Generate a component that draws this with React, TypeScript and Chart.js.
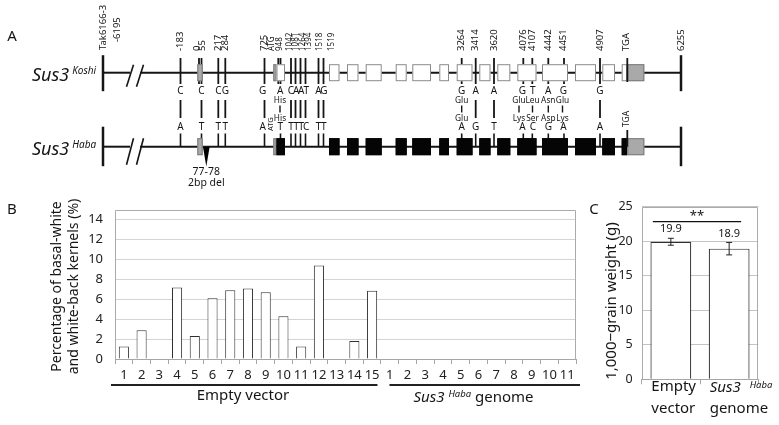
import React, { useEffect, useRef } from "react";
import { Chart, registerables } from "chart.js";

Chart.register(...registerables);

const FONT = '"Noto Sans", "DejaVu Sans", sans-serif';
Chart.defaults.font.family = FONT;
Chart.defaults.color = "#222";

const INK = "#151515";

// ---------------- Panel A : Sus3 gene structure (positions in diagram columns) ----------------
const alleleNames = ["Koshi", "Haba"];
const geneSpan = [103, 681];
const breakMarks = [130, 140];
const utr5Exon = [197.3, 202.7];
const atgUtr = [273.3, 276.5];
const codingExons = [
  [276.5, 285], [329, 339.5], [347, 358.5], [365.7, 381.7], [395.7, 406.7],
  [412.3, 431], [439.3, 449], [456.7, 472.5], [479.3, 490.5], [497.3, 510.3],
  [517.3, 536.5], [542, 568], [575, 596], [602.3, 615], [621.7, 627.3],
];
const utr3Exon = [627.3, 644.3];
const tgaPos = 627.3;
const topLabels = [
  "-6195", "-183", "0", "55", "217", "284", "725", "ATG", "948", "1042", "1081", "1264",
  "1394", "1518", "1519", "3264", "3414", "3620", "4076", "4107", "4442", "4451", "4907", "TGA", "6255",
];
const topLabelX = [
  117, 180.5, 197.3, 202.6, 218.3, 225.3, 263.8, 271.5, 279.5, 289.5, 296, 302.3,
  308.3, 320, 331.5, 461.7, 475.5, 494, 523.3, 532.7, 548.3, 563.3, 600, 626.7, 681.5,
];
const denseLabels = ["ATG", "948", "1042", "1081", "1264", "1394", "1518", "1519"];
const startLabel = "Tak6166-3";
const koshiExtraTicks = [199, 278.3];
const snpX = [180.5, 201.5, 218.3, 225.3, 264.5, 280.5, 291, 295.5, 300.5, 305.5, 318.5, 323.5, 461.7, 475.7, 494, 523.3, 532.3, 548.3, 564, 600];
const koshiBases = ["C", "C", "C", "G", "G", "A", "C", "A", "A", "T", "A", "G", "G", "A", "A", "G", "T", "A", "G", "G"];
const habaBases = ["A", "T", "T", "T", "A", "T", "T", "T", "T", "C", "T", "T", "A", "G", "T", "A", "C", "G", "A", "A"];
const baseLabelX = [180.5, 201.5, 218.3, 225.3, 262.7, 280.3, 291, 296.2, 301.2, 306.2, 318.5, 323.8, 461.7, 475.7, 494, 522.5, 532.8, 548.3, 563.5, 600];
const aaSnpX = [280.5, 461.7, 523.3, 532.3, 548.3, 564];
const aaLabelX = [280, 461.7, 519, 532.5, 548.3, 562.5];
const koshiAA = ["His", "Glu", "Glu", "Leu", "Asn", "Glu"];
const habaAA = ["His", "Glu", "Lys", "Ser", "Asp", "Lys"];
const deletionX = 206.3;
const deletionText = ["77-78", "2bp del"];

// ---------------- Panel B ----------------
const emptyVectorLines = ["1", "2", "3", "4", "5", "6", "7", "8", "9", "10", "11", "12", "13", "14", "15"];
const habaGenomeLines = ["1", "2", "3", "4", "5", "6", "7", "8", "9", "10", "11"];
const pctEmptyVector = [1.25, 2.9, 0, 7.2, 2.3, 6.1, 6.9, 7.1, 6.7, 4.3, 1.25, 9.4, 0, 1.8, 6.85];
const pctHabaGenome = [0, 0, 0, 0, 0, 0, 0, 0, 0, 0, 0];
const groupNames = ["Empty vector", "genome"];
const yTitleB = ["Percentage of basal-white", "and white-back kernels (%)"];

// ---------------- Panel C ----------------
const cCategories = ["Empty vector", "Sus3 Haba genome"];
const grainWeight = [19.9, 18.9];
const grainWeightErr = [0.5, 0.9];
const grainWeightText = ["19.9", "18.9"];
const significance = "**";
const significanceLevel = 22.8;
const yTitleC = "1,000\u2212grain weight (g)";

// ---------------- helpers ----------------
function seg(ctx: CanvasRenderingContext2D, x1: number, y1: number, x2: number, y2: number, w: number, c = INK) {
  ctx.save();
  ctx.beginPath();
  ctx.strokeStyle = c;
  ctx.lineWidth = w;
  ctx.moveTo(x1, y1);
  ctx.lineTo(x2, y2);
  ctx.stroke();
  ctx.restore();
}
function txt(ctx: CanvasRenderingContext2D, s: string, x: number, y: number, font: string, align: CanvasTextAlign = "center", baseline: CanvasTextBaseline = "middle", rot = 0, color = INK) {
  ctx.save();
  ctx.translate(x, y);
  if (rot) ctx.rotate(rot);
  ctx.font = font;
  ctx.fillStyle = color;
  ctx.textAlign = align;
  ctx.textBaseline = baseline;
  ctx.fillText(s, 0, 0);
  ctx.restore();
}
function box(ctx: CanvasRenderingContext2D, x1: number, y1: number, x2: number, y2: number, fill: string, stroke: string) {
  ctx.save();
  ctx.fillStyle = fill;
  ctx.fillRect(x1, y1, x2 - x1, y2 - y1);
  ctx.strokeStyle = stroke;
  ctx.lineWidth = 1;
  ctx.strokeRect(x1 + 0.5, y1 + 0.5, x2 - x1 - 1, y2 - y1 - 1);
  ctx.restore();
}
function sus3Label(ctx: CanvasRenderingContext2D, x: number, yBase: number, size: number, supSize: number, sup: string, gap: number, rise: number, measureOnly = false) {
  ctx.save();
  ctx.font = `italic ${size}px ${FONT}`;
  const w1 = ctx.measureText("Sus3").width;
  ctx.font = `italic ${supSize}px ${FONT}`;
  const w2 = ctx.measureText(sup).width;
  if (!measureOnly) {
    txt(ctx, "Sus3", x, yBase, `italic ${size}px ${FONT}`, "left", "alphabetic");
    txt(ctx, sup, x + w1 + gap, yBase - rise, `italic ${supSize}px ${FONT}`, "left", "alphabetic");
  }
  ctx.restore();
  return w1 + gap + w2;
}

const genePlugin = {
  id: "geneDiagram",
  afterDraw(chart: any) {
    const ctx: CanvasRenderingContext2D = chart.ctx;
    const X = (v: number) => chart.scales.x.getPixelForValue(v);
    const Y = (v: number) => chart.scales.y.getPixelForValue(v);
    const rowY = [72.7, 146.7];

    txt(ctx, "A", X(12), Y(37), `15px ${FONT}`);

    rowY.forEach((y0, r) => {
      sus3Label(ctx, X(32), Y(y0 + 8), 18, 10, alleleNames[r], 3, 7);
      seg(ctx, X(geneSpan[0]), Y(y0), X(breakMarks[0]), Y(y0), 2);
      seg(ctx, X(breakMarks[1]), Y(y0), X(geneSpan[1]), Y(y0), 2);
      const eb = r === 0 ? [y0 - 17.5, y0 + 18.5] : [y0 - 20, y0 + 19.5];
      seg(ctx, X(geneSpan[0]), Y(eb[0]), X(geneSpan[0]), Y(eb[1]), 2.5);
      seg(ctx, X(geneSpan[1]), Y(eb[0]), X(geneSpan[1]), Y(eb[1]), 2.5);
      const bt = r === 0 ? [y0 + 14, y0 - 8] : [y0 + 18, y0 - 8.5];
      breakMarks.forEach((bx) => seg(ctx, X(bx - 3.5), Y(bt[0]), X(bx + 3.5), Y(bt[1]), 1.6));
      if (r === 0) {
        [...snpX, ...koshiExtraTicks].forEach((sx) => seg(ctx, X(sx), Y(58), X(sx), Y(84), 1.8));
      } else {
        snpX.forEach((sx) => seg(ctx, X(sx), Y(133.5), X(sx), Y(y0), 1.6));
      }
      const top = y0 - 8.5, bot = y0 + 8.5;
      box(ctx, X(utr5Exon[0]), Y(top), X(utr5Exon[1]), Y(bot), "#a9a9a9", "#7a7a7a");
      box(ctx, X(atgUtr[0]), Y(top), X(atgUtr[1]), Y(bot), "#a9a9a9", "#7a7a7a");
      codingExons.forEach(([a, b]) =>
        r === 0 ? box(ctx, X(a), Y(top), X(b), Y(bot), "#ffffff", "#8a8a8a") : box(ctx, X(a), Y(top), X(b), Y(bot), "#050505", "#050505")
      );
      box(ctx, X(utr3Exon[0]), Y(top), X(utr3Exon[1]), Y(bot), "#a9a9a9", "#7a7a7a");
      if (r === 0) seg(ctx, X(tgaPos), Y(58), X(tgaPos), Y(82), 1.8);
      else seg(ctx, X(tgaPos), Y(130), X(tgaPos), Y(y0), 1.8);
    });

    txt(ctx, startLabel, X(103.5), Y(50), `9.5px ${FONT}`, "left", "middle", -Math.PI / 2);
    topLabels.forEach((s, i) => {
      const dense = denseLabels.includes(s);
      const bottom = s === "-6195" ? 42 : 51;
      txt(ctx, s, X(topLabelX[i]), Y(bottom), `${dense ? 8 : 9.5}px ${FONT}`, "left", "middle", -Math.PI / 2);
    });
    txt(ctx, "ATG", X(270.5), Y(131), `7.5px ${FONT}`, "left", "middle", -Math.PI / 2);
    txt(ctx, "TGA", X(626.7), Y(127), `8.5px ${FONT}`, "left", "middle", -Math.PI / 2);

    const bf = `10px ${FONT}`;
    snpX.forEach((sx, i) => {
      txt(ctx, koshiBases[i], X(baseLabelX[i]), Y(90.8), bf);
      txt(ctx, habaBases[i], X(baseLabelX[i]), Y(127.3), bf);
      if (!aaSnpX.includes(sx)) seg(ctx, X(sx), Y(100), X(sx), Y(118), 1.8);
    });
    aaLabelX.forEach((ax, i) => {
      txt(ctx, koshiAA[i], X(ax), Y(100.8), `8.3px ${FONT}`);
      txt(ctx, habaAA[i], X(ax), Y(118.2), `8.3px ${FONT}`);
      seg(ctx, X(ax), Y(105.5), X(ax), Y(112.5), 1.4);
    });

    ctx.save();
    ctx.fillStyle = "#000";
    ctx.beginPath();
    ctx.moveTo(X(deletionX - 3.3), Y(147));
    ctx.lineTo(X(deletionX + 3.3), Y(147));
    ctx.lineTo(X(deletionX), Y(166.5));
    ctx.closePath();
    ctx.fill();
    ctx.restore();
    txt(ctx, deletionText[0], X(deletionX), Y(172.5), `10.5px ${FONT}`);
    txt(ctx, deletionText[1], X(deletionX), Y(183.5), `10.5px ${FONT}`);
  },
};

const plotFramePlugin = {
  id: "plotFrame",
  beforeDatasetsDraw(chart: any) {
    const { ctx, chartArea: a } = chart;
    ctx.save();
    ctx.strokeStyle = "#ababab";
    ctx.lineWidth = 1;
    ctx.beginPath();
    ctx.moveTo(Math.round(a.left) + 0.5, Math.round(a.bottom) + 0.5);
    ctx.lineTo(Math.round(a.left) + 0.5, Math.round(a.top) + 0.5);
    ctx.lineTo(Math.round(a.right) - 0.5, Math.round(a.top) + 0.5);
    ctx.lineTo(Math.round(a.right) - 0.5, Math.round(a.bottom) + 0.5);
    ctx.stroke();
    ctx.restore();
  },
};

const panelBPlugin = {
  id: "panelB",
  afterDraw(chart: any) {
    const ctx: CanvasRenderingContext2D = chart.ctx;
    const xs = chart.scales.x;
    const a = chart.chartArea;
    const half = (xs.getPixelForValue(1) - xs.getPixelForValue(0)) / 2;
    txt(ctx, "B", 12, 20, `15px ${FONT}`);
    txt(ctx, yTitleB[0], 57, 96.5, `14px ${FONT}`, "center", "middle", -Math.PI / 2);
    txt(ctx, yTitleB[1], 74, 96.5, `14px ${FONT}`, "center", "middle", -Math.PI / 2);
    const groups = [
      [0, emptyVectorLines.length - 1],
      [emptyVectorLines.length, emptyVectorLines.length + habaGenomeLines.length - 1],
    ];
    const uy = a.bottom + 26;
    groups.forEach(([i0, i1], g) => {
      const l = xs.getPixelForValue(i0) - half;
      const r = xs.getPixelForValue(i1) + half;
      const lo = g === 0 ? -4 : 8.5;
      const ro = g === 0 ? -3.5 : 4;
      seg(ctx, l + lo, uy, r + ro, uy, 2, "#222");
      const cx = (l + r) / 2 - 5;
      const ly = a.bottom + 37;
      if (g === 0) {
        txt(ctx, groupNames[0], cx, ly, `15px ${FONT}`);
      } else {
        ctx.save();
        ctx.font = `15px ${FONT}`;
        const wg = ctx.measureText(" " + groupNames[1]).width;
        ctx.restore();
        const ws = sus3Label(ctx, 0, 0, 15, 9.5, "Haba", 4, 4.5, true);
        const x0 = cx - (ws + wg) / 2;
        const base = ly + 5.5;
        sus3Label(ctx, x0, base, 15, 9.5, "Haba", 4, 4.5);
        txt(ctx, " " + groupNames[1], x0 + ws, base, `15px ${FONT}`, "left", "alphabetic");
      }
    });
  },
};

const panelCPlugin = {
  id: "panelC",
  afterDatasetsDraw(chart: any) {
    const ctx: CanvasRenderingContext2D = chart.ctx;
    const ys = chart.scales.y;
    const meta = chart.getDatasetMeta(0);
    txt(ctx, "C", 9, 20, `15px ${FONT}`);
    txt(ctx, yTitleC, 26.5, 111, `15px ${FONT}`, "center", "middle", -Math.PI / 2);
    meta.data.forEach((bar: any, i: number) => {
      const x = bar.x;
      const yt = ys.getPixelForValue(grainWeight[i] + grainWeightErr[i]);
      const yb = ys.getPixelForValue(grainWeight[i] - grainWeightErr[i]);
      seg(ctx, x, yt, x, yb, 1, "#222");
      seg(ctx, x - 3, yt, x + 3, yt, 1, "#222");
      seg(ctx, x - 3, yb, x + 3, yb, 1, "#222");
      txt(ctx, grainWeightText[i], x, yt - 9, `11px ${FONT}`);
      const lx = x - 19.5;
      const l1 = chart.chartArea.bottom + 7.5;
      const l2 = chart.chartArea.bottom + 29;
      if (i === 0) {
        txt(ctx, "Empty", lx, l1, `15px ${FONT}`, "left");
        txt(ctx, "vector", lx, l2, `15px ${FONT}`, "left");
      } else {
        sus3Label(ctx, lx, l1 + 5.5, 15, 9.5, "Haba", 9, 4.5);
        txt(ctx, "genome", lx, l2, `15px ${FONT}`, "left");
      }
    });
    const sy = ys.getPixelForValue(significanceLevel);
    const x1 = meta.data[0].x - 18;
    const x2 = meta.data[1].x + 12;
    seg(ctx, x1, sy, x2, sy, 1.2, "#111");
    txt(ctx, significance, (x1 + x2) / 2, sy - 5, `13px ${FONT}`);
  },
};

function ChartBox({ left, top, width, height, make }: { left: number; top: number; width: number; height: number; make: (c: HTMLCanvasElement) => Chart }) {
  const ref = useRef<HTMLCanvasElement | null>(null);
  useEffect(() => {
    if (!ref.current) return;
    const ch = make(ref.current);
    return () => ch.destroy();
  }, []);
  return (
    <div style={{ position: "absolute", left, top, width, height }}>
      <canvas ref={ref} width={width} height={height} style={{ width, height, display: "block" }} />
    </div>
  );
}

const makeA = (c: HTMLCanvasElement) =>
  new Chart(c, {
    type: "scatter",
    data: { datasets: [{ data: [], pointRadius: 0 }] },
    options: {
      responsive: false,
      animation: false,
      devicePixelRatio: 1,
      layout: { padding: 0 },
      plugins: { legend: { display: false }, tooltip: { enabled: false } },
      scales: {
        x: { type: "linear", min: 0, max: 779, display: false },
        y: { type: "linear", min: 0, max: 190, reverse: true, display: false },
      },
    },
    plugins: [genePlugin],
  } as any);

const makeB = (c: HTMLCanvasElement) =>
  new Chart(c, {
    type: "bar",
    data: {
      labels: [...emptyVectorLines, ...habaGenomeLines],
      datasets: [
        {
          data: [...pctEmptyVector, ...pctHabaGenome],
          backgroundColor: "#ffffff",
          borderColor: "#303030",
          borderWidth: (ctx: any) => (ctx.raw === 0 ? 0 : 1),
          barPercentage: 0.57,
          categoryPercentage: 1,
        },
      ],
    },
    options: {
      responsive: false,
      animation: false,
      devicePixelRatio: 1,
      layout: { padding: { top: 10, right: 9, left: 0, bottom: 0 } },
      plugins: { legend: { display: false }, tooltip: { enabled: false } },
      scales: {
        x: {
          grid: { display: true, offset: true, drawOnChartArea: false, tickLength: 5, color: "#a6a6a6" },
          border: { display: true, color: "#a6a6a6" },
          ticks: { font: { size: 13 }, color: "#222", padding: 3, maxRotation: 0, autoSkip: false },
          afterFit: (s: any) => {
            s.height = 66;
          },
        },
        y: {
          min: 0,
          max: 15,
          ticks: { stepSize: 2, includeBounds: false, font: { size: 13 }, color: "#222", padding: 12 },
          grid: { color: "#d4d4d4", drawTicks: false },
          border: { display: false },
          afterFit: (s: any) => {
            s.width = 115;
          },
        },
      },
    },
    plugins: [plotFramePlugin, panelBPlugin],
  } as any);

const makeC = (c: HTMLCanvasElement) =>
  new Chart(c, {
    type: "bar",
    data: {
      labels: cCategories,
      datasets: [
        {
          data: grainWeight,
          backgroundColor: "#ffffff",
          borderColor: "#303030",
          borderWidth: 1.2,
          barPercentage: 0.7,
          categoryPercentage: 1,
        },
      ],
    },
    options: {
      responsive: false,
      animation: false,
      devicePixelRatio: 1,
      layout: { padding: { top: 10.5, right: 20.7, left: 0, bottom: 0 } },
      plugins: { legend: { display: false }, tooltip: { enabled: false } },
      scales: {
        x: {
          grid: { display: true, offset: true, drawOnChartArea: false, tickLength: 5, color: "#a6a6a6" },
          border: { display: true, color: "#a6a6a6" },
          ticks: { display: false },
          afterFit: (s: any) => {
            s.height = 45.7;
          },
        },
        y: {
          min: 0,
          max: 25,
          ticks: { stepSize: 5, font: { size: 12.5 }, color: "#222", padding: 9 },
          grid: { color: "#c4c4c4", drawTicks: false },
          border: { display: false },
          afterFit: (s: any) => {
            s.width = 56.7;
          },
        },
      },
    },
    plugins: [plotFramePlugin, panelCPlugin],
  } as any);

export default function App() {
  return (
    <div style={{ position: "fixed", left: 0, top: 0, width: 779, height: 425, background: "#fff", overflow: "hidden" }}>
      <ChartBox left={0} top={0} width={779} height={190} make={makeA} />
      <ChartBox left={0} top={190} width={585} height={235} make={makeB} />
      <ChartBox left={585} top={190} width={194} height={235} make={makeC} />
    </div>
  );
}
